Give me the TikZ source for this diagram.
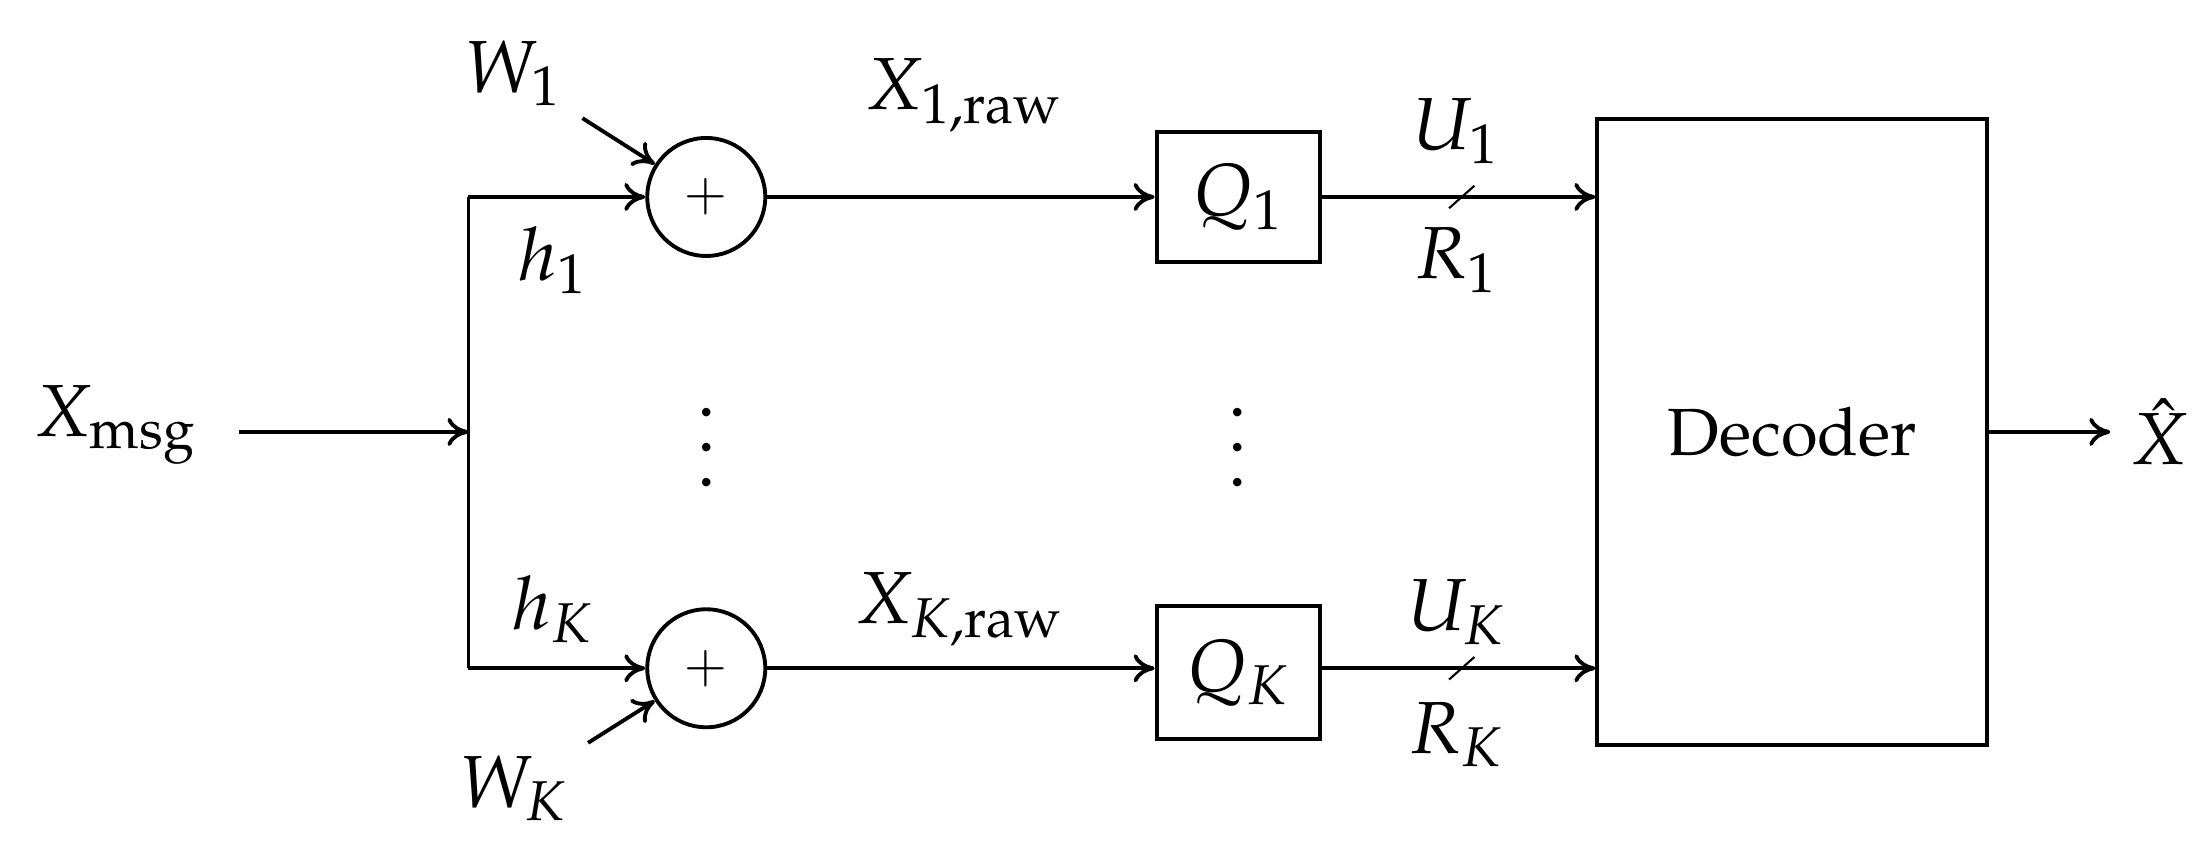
\documentclass[tikz,border=0pt]{standalone}
\usepackage[T1]{fontenc}
\usepackage{mathpazo}
\usetikzlibrary{arrows.meta}
\begin{document}
\begin{tikzpicture}[x=0.01407cm,y=-0.01407cm,
  every node/.style={font=\fontsize{21}{25}\selectfont},
  ar/.style={-{To[length=6pt,width=8pt]},line width=1.1pt},
  ln/.style={line width=1.1pt},
  sum/.style={circle,draw,line width=1.1pt,minimum size=1.18cm,inner sep=0pt},
  box/.style={draw,line width=1.1pt,inner sep=0pt},
  dots/.style={font=\fontsize{21}{10}\selectfont,align=center,inner sep=0pt}]
\useasboundingbox (0,0) rectangle (1568,610);
\node (xm) at (82,302) {$X_{\mathrm{msg}}$};
\coordinate (s) at (170,307);
\coordinate (j) at (333,307);
\coordinate (jt) at (333,140);
\coordinate (jb) at (333,475);
\draw[ar] (s) -- (j);
\draw[ln] (jt) -- (jb);
\node[sum] (c1) at (502,140) {\fontsize{15}{15}\selectfont$+$};
\node[sum] (ck) at (502,475) {\fontsize{15}{15}\selectfont$+$};
\draw[ar] (jt) -- (c1);
\draw[ar] (jb) -- (ck);
\node (h1) at (393,185) {$h_1$};
\node (hk) at (393,433) {$h_K$};
\node (w1) at (365,52) {$W_1$};
\node (wk) at (365,560) {$W_K$};
\coordinate (w1a) at (414,84);
\coordinate (wka) at (418,528);
\draw[ar] (w1a) -- (c1);
\draw[ar] (wka) -- (ck);
\node[box,minimum width=1.63cm,minimum height=1.30cm] (q1) at (880,140) {$Q_1$};
\node[box,minimum width=1.63cm,minimum height=1.33cm] (qk) at (880,478) {$Q_K$};
\draw[ar] (c1) -- (q1);
\draw[ar] (ck) -- (qk.west|-ck);
\node (x1) at (685,68) {$X_{1,\mathrm{raw}}$};
\node (xk) at (682,433) {$X_{K,\mathrm{raw}}$};
\node[box,minimum width=3.9cm,minimum height=6.26cm] (dec) at (1274,307) {\fontsize{19}{22}\selectfont Decoder};
\draw[ar] (q1) -- (q1-|dec.west);
\draw[ar] (qk.east|-ck) -- (ck-|dec.west);
\coordinate (sa1) at (1030,148); \coordinate (sb1) at (1048,132);
\coordinate (sak) at (1030,483); \coordinate (sbk) at (1048,467);
\draw[line width=0.6pt] (sa1) -- (sb1);
\draw[line width=0.6pt] (sak) -- (sbk);
\node (u1) at (1035,93) {$U_1$};
\node (r1) at (1035,185) {$R_1$};
\node (uk) at (1035,435) {$U_K$};
\node (rk) at (1035,522) {$R_K$};
\node (xh) at (1535,307) {$\hat{X}$};
\coordinate (xa) at (1500,307);
\draw[ar] (dec.east) -- (xa);
\node[dots] (d1) at (502,318) {.\\.\\.};
\node[dots] (d2) at (880,318) {.\\.\\.};
\end{tikzpicture}
\end{document}
